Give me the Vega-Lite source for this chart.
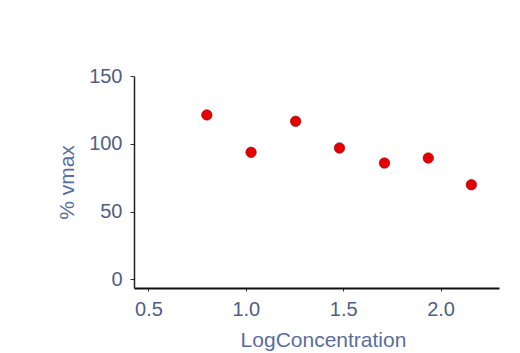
{
  "$schema": "https://vega.github.io/schema/vega-lite/v6.json",
  "autosize": "none",
  "width": 365,
  "height": 212,
  "padding": {"left": 134, "top": 76, "right": 21, "bottom": 65},
  "background": "white",
  "config": {
    "view": {"stroke": null},
    "font": "Liberation Sans",
    "axis": {"grid": false, "labelFont": "Liberation Sans", "titleFont": "Liberation Sans", "titleFontWeight": "normal"}
  },
  "data": {
    "values": [
      {"LogConcentration": 0.80, "vmax": 121.3},
      {"LogConcentration": 1.027, "vmax": 93.7},
      {"LogConcentration": 1.256, "vmax": 116.6},
      {"LogConcentration": 1.481, "vmax": 96.9},
      {"LogConcentration": 1.712, "vmax": 85.8},
      {"LogConcentration": 1.937, "vmax": 89.5},
      {"LogConcentration": 2.158, "vmax": 69.8}
    ]
  },
  "mark": {"type": "point", "shape": "circle", "filled": true, "size": 110, "color": "#e60000", "stroke": "#8a0000", "strokeWidth": 0.6, "opacity": 1},
  "encoding": {
    "x": {
      "field": "LogConcentration",
      "type": "quantitative",
      "scale": {"domain": [0.426, 2.3], "nice": false, "zero": false},
      "axis": {
        "title": "LogConcentration",
        "values": [0.5, 1.0, 1.5, 2.0],
        "format": ".1f",
        "domainColor": "#111111",
        "domainWidth": 2,
        "tickColor": "#333333",
        "tickSize": 3,
        "labelFontSize": 20,
        "labelColor": "#4f6088",
        "labelPadding": 8,
        "titleFontSize": 21,
        "titleColor": "#5a6d9e",
        "titlePadding": 10,
        "titleX": 189
      }
    },
    "y": {
      "field": "vmax",
      "type": "quantitative",
      "scale": {"domain": [-6.4, 150], "nice": false, "zero": false},
      "axis": {
        "title": "% vmax",
        "values": [0, 50, 100, 150],
        "domainColor": "#222222",
        "domainWidth": 1.5,
        "tickColor": "#333333",
        "tickSize": 4,
        "labelFontSize": 20,
        "labelColor": "#4f6088",
        "labelPadding": 8,
        "titleFontSize": 21,
        "titleColor": "#5a6d9e",
        "titlePadding": 11
      }
    }
  }
}
